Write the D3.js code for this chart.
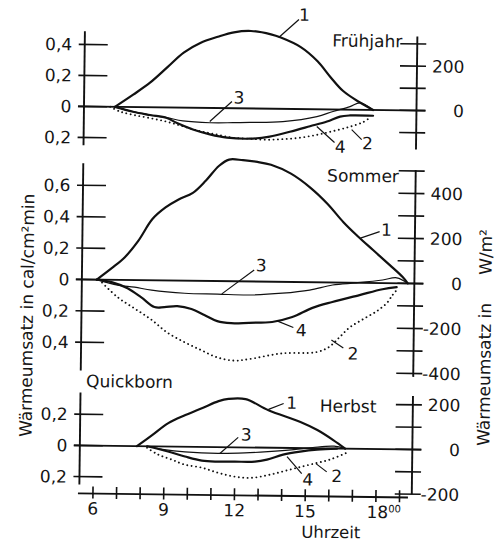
<!DOCTYPE html>
<html>
<head>
<meta charset="utf-8">
<script src="https://cdn.jsdelivr.net/npm/d3@7"></script>
<style>
  body { margin: 0; background: #fff; }
  svg text { font-family: "DejaVu Sans", sans-serif; fill: #151515; }
</style>
</head>
<body>
<div id="chart"></div>
<script>
// Wärmeumsatz, cal/cm²min, against Uhrzeit (hours)
// 1 = Strahlungsbilanz, 2/3/4 = Verbrauchsterme (as numbered in the figure)
var springC1 = [[6.73,0],[7.5,0.08],[8.22,0.16],[8.94,0.26],[9.62,0.355],[10.34,0.42],[11.06,0.46],[11.74,0.49],[12.46,0.5],[13.31,0.48],[13.73,0.46],[14.58,0.4],[15.3,0.31],[15.85,0.21],[16.4,0.12],[17.12,0.047],[17.68,0]];
var springC2 = [[6.53,0],[6.95,-0.03],[7.5,-0.05],[8.22,-0.07],[8.94,-0.092],[9.62,-0.12],[10.34,-0.15],[11.06,-0.17],[11.74,-0.19],[12.46,-0.195],[13.18,-0.2],[13.86,-0.195],[14.58,-0.185],[15.3,-0.165],[15.98,-0.14],[16.7,-0.11],[17.25,-0.08],[17.55,-0.05]];
var springC3 = [[6.73,0],[7.5,-0.03],[8.22,-0.05],[8.94,-0.066],[9.62,-0.085],[10.77,-0.095],[11.74,-0.093],[12.46,-0.09],[13.86,-0.082],[15.3,-0.047],[15.98,-0.013],[16.7,0.02],[17.12,0.045],[17.68,0]];
var springC4 = [[6.73,0],[7.5,-0.03],[8.22,-0.05],[8.94,-0.068],[9.37,-0.1],[10.05,-0.14],[10.77,-0.17],[11.5,-0.19],[12.46,-0.195],[13.31,-0.18],[14.16,-0.147],[15.01,-0.11],[15.73,-0.078],[16.28,-0.045],[16.7,-0.037],[17.68,-0.037]];

var summerC1 = [[6.05,0],[6.68,0.074],[7.23,0.145],[7.79,0.25],[8.38,0.39],[8.93,0.465],[9.48,0.517],[10.08,0.56],[10.63,0.64],[11.18,0.735],[11.6,0.775],[12.19,0.772],[12.8,0.762],[13.38,0.745],[14.23,0.69],[15.08,0.6],[15.8,0.5],[16.48,0.385],[17.07,0.3],[17.75,0.21],[18.47,0.115],[19.02,0.04],[19.24,0]];
var summerC2 = [[6.15,0],[6.94,-0.11],[7.66,-0.18],[8.38,-0.25],[9.05,-0.33],[9.78,-0.39],[10.5,-0.44],[11.18,-0.485],[11.9,-0.505],[12.53,-0.495],[13.95,-0.455],[15.39,-0.445],[15.94,-0.41],[16.36,-0.35],[16.79,-0.286],[17.34,-0.233],[17.93,-0.18],[18.36,-0.127],[18.61,-0.073],[18.78,-0.042]];
var summerC3 = [[6.05,0],[6.94,-0.033],[7.66,-0.045],[8.38,-0.063],[9.78,-0.08],[11.18,-0.083],[12.53,-0.086],[13.93,-0.072],[15.08,-0.05],[16.05,-0.016],[17.07,0],[18.17,0.02],[18.77,0.035],[19.24,0]];
var summerC4 = [[6.05,0],[6.68,-0.015],[7.36,-0.053],[7.95,-0.11],[8.51,-0.17],[8.93,-0.17],[9.48,-0.163],[10.08,-0.18],[10.63,-0.217],[11.18,-0.255],[11.77,-0.267],[12.53,-0.263],[13.51,-0.256],[14.36,-0.223],[15.21,-0.163],[16.05,-0.124],[17.2,-0.078],[18.17,-0.039],[18.77,-0.025]];

var autumnC1 = [[7.84,0],[8.48,0.072],[9.16,0.15],[9.88,0.203],[10.6,0.25],[11.28,0.295],[11.7,0.31],[12.42,0.31],[13.4,0.24],[14.76,0.167],[15.48,0.117],[16.16,0.054],[16.67,0]];
var autumnC2 = [[8.27,-0.01],[8.74,-0.052],[9.33,-0.084],[9.88,-0.115],[10.6,-0.133],[11.28,-0.164],[12,-0.188],[12.72,-0.194],[13.48,-0.173],[14.33,-0.139],[15.18,-0.105],[16.03,-0.071],[16.75,-0.025]];
var autumnC3 = [[8.27,0],[9,-0.02],[9.88,-0.033],[11.28,-0.04],[12.42,-0.035],[13.4,-0.025],[14.5,-0.01],[15.3,0.005],[16.2,0.015],[16.67,0]];
var autumnC4 = [[8.27,0],[9.16,-0.032],[9.88,-0.063],[10.6,-0.088],[11.28,-0.093],[12,-0.092],[12.85,-0.09],[13.36,-0.076],[14.04,-0.043],[14.76,-0.022],[15.48,-0.008],[16.33,0]];

// curve numbers with their leader lines (hour, value)
var springNotes = [
  {t: "1", from: [13.64, 0.46], to: [14.49, 0.578], at: [14.72, 0.61]},
  {t: "3", from: [10.76, -0.087], to: [11.69, 0.044], at: [11.99, 0.07]},
  {t: "4", from: [15.3, -0.111], to: [16.06, -0.213], at: [16.31, -0.24]},
  {t: "2", from: [16.78, -0.128], to: [17.21, -0.192], at: [17.46, -0.215]}
];
var summerNotes = [
  {t: "1", from: [17.21, 0.285], to: [18.02, 0.328], at: [18.31, 0.34]},
  {t: "3", from: [11.36, -0.081], to: [12.72, 0.073], at: [13.02, 0.105]},
  {t: "4", from: [13.74, -0.25], to: [14.41, -0.29], at: [14.75, -0.306]},
  {t: "2", from: [16.03, -0.366], to: [16.54, -0.417], at: [16.95, -0.45]}
];
var autumnNotes = [
  {t: "1", from: [13.4, 0.246], to: [14.04, 0.285], at: [14.38, 0.29]},
  {t: "3", from: [11.36, -0.041], to: [12.13, 0.064], at: [12.47, 0.083]},
  {t: "4", from: [14.21, -0.055], to: [14.84, -0.164], at: [15.1, -0.2]},
  {t: "2", from: [15.44, -0.098], to: [15.9, -0.15], at: [16.33, -0.175]}
];

var hourTicks = [6,7,8,9,10,11,12,13,14,15,16,17,18,19];
var hourLabels = [6,9,12,15,18];

var calToW = 697.8;   // 1 cal/cm²min in W/m²

var width = 496, height = 545;
var axisL = 82, axisR = 414.5;

var panels = [
  {title: "Frühjahr", tx: 329.5, ty: 45.5, zero: 108.5, k: 155,
   left: [-0.25, 0.485], leftTicks: [0.4, 0.2, 0, -0.2],
   right: [-176, 333], rightTicks: [300, 200, 100, 0, -100], rightLabels: [200, 0],
   series: [springC1, springC2, springC3, springC4], notes: springNotes},
  {title: "Sommer", tx: 326, ty: 180.5, zero: 281.5, k: 157,
   left: [-0.58, 0.74], leftTicks: [0.6, 0.4, 0.2, 0, -0.2, -0.4],
   right: [-415, 504], rightTicks: [500, 400, 300, 200, 100, 0, -100, -200, -300, -400], rightLabels: [400, 200, 0, -200, -400],
   series: [summerC1, summerC2, summerC3, summerC4], notes: summerNotes},
  {title: "Herbst", tx: 321.5, ty: 411, zero: 447.5, k: 156,
   left: [-0.25, 0.34], leftTicks: [0.2, 0, -0.2],
   right: [-200, 239], rightTicks: [200, 100, 0, -100, -200], rightLabels: [200, 0, -200],
   series: [autumnC1, autumnC2, autumnC3, autumnC4], notes: autumnNotes}
];

var styles = [
  {w: 2.2, dash: null},
  {w: 1.9, dash: "0.01,4.4"},
  {w: 1.2, dash: null},
  {w: 2.2, dash: null}
];

var x = d3.scaleLinear().domain([6, 18]).range([95.7, 378.7]);

var svg = d3.select("#chart").append("svg")
    .attr("width", width)
    .attr("height", height);

// the printed figure sits slightly skewed on the page
var g = svg.append("g").attr("transform", "rotate(0.7,250,270)");

var calFmt = function(v) { return v === 0 ? "0" : d3.format(".1f")(Math.abs(v)).replace(".", ","); };

panels.forEach(function(p) {
  var y = d3.scaleLinear().domain([0, 1]).range([p.zero, p.zero - p.k]);
  var yW = d3.scaleLinear().domain([0, calToW]).range([p.zero, p.zero - p.k]);
  var pg = g.append("g");

  // left axis (cal/cm²min)
  pg.append("line")
    .attr("x1", axisL).attr("x2", axisL)
    .attr("y1", y(p.left[1])).attr("y2", y(p.left[0]))
    .attr("stroke", "#111").attr("stroke-width", 1.9);
  pg.selectAll(".lt").data(p.leftTicks).enter().append("line")
    .attr("x1", axisL - 6).attr("x2", axisL + 23)
    .attr("y1", function(d) { return y(d); }).attr("y2", function(d) { return y(d); })
    .attr("stroke", "#111").attr("stroke-width", 1.6);
  pg.selectAll(".ll").data(p.leftTicks).enter().append("text")
    .attr("x", axisL - 12.5).attr("y", function(d) { return y(d); })
    .attr("dy", "0.36em").attr("text-anchor", "end")
    .style("font-size", "17px")
    .text(calFmt);

  // right axis (W/m²)
  pg.append("line")
    .attr("x1", axisR).attr("x2", axisR)
    .attr("y1", yW(p.right[1])).attr("y2", yW(p.right[0]))
    .attr("stroke", "#111").attr("stroke-width", 1.9);
  pg.selectAll(".rt").data(p.rightTicks).enter().append("line")
    .attr("x1", axisR - 17).attr("x2", axisR + 9)
    .attr("y1", function(d) { return yW(d); }).attr("y2", function(d) { return yW(d); })
    .attr("stroke", "#111").attr("stroke-width", 1.6);
  pg.selectAll(".rl").data(p.rightLabels).enter().append("text")
    .attr("x", axisR + 47.5).attr("y", function(d) { return yW(d); })
    .attr("dy", "0.36em").attr("text-anchor", "end")
    .style("font-size", "17px")
    .text(function(d) { return d < 0 ? "-" + (-d) : d; });

  // zero line across the panel
  pg.append("line")
    .attr("x1", axisL - 6).attr("x2", axisR + 9)
    .attr("y1", y(0)).attr("y2", y(0))
    .attr("stroke", "#111").attr("stroke-width", 1.9);

  var line = d3.line()
    .x(function(d) { return x(d[0]); })
    .y(function(d) { return y(d[1]); })
    .curve(d3.curveCatmullRom.alpha(0.5));

  pg.selectAll(".curve").data(p.series).enter().append("path")
    .attr("d", line)
    .attr("fill", "none")
    .attr("stroke", "#111")
    .attr("stroke-width", function(d, i) { return styles[i].w; })
    .attr("stroke-dasharray", function(d, i) { return styles[i].dash; })
    .attr("stroke-linecap", "round")
    .attr("stroke-linejoin", "round");

  // leader lines + curve numbers
  pg.selectAll(".lead").data(p.notes).enter().append("line")
    .attr("x1", function(d) { return x(d.from[0]); })
    .attr("y1", function(d) { return y(d.from[1]); })
    .attr("x2", function(d) { return x(d.to[0]); })
    .attr("y2", function(d) { return y(d.to[1]); })
    .attr("stroke", "#111").attr("stroke-width", 1.2);
  pg.selectAll(".num").data(p.notes).enter().append("text")
    .attr("x", function(d) { return x(d.at[0]); })
    .attr("y", function(d) { return y(d.at[1]); })
    .attr("dy", "0.36em").attr("text-anchor", "middle")
    .style("font-size", "17px")
    .text(function(d) { return d.t; });

  pg.append("text")
    .attr("x", p.tx).attr("y", p.ty)
    .style("font-size", "17px")
    .text(p.title);
});

// time axis
var xAxisY = 495.5;
g.append("line")
  .attr("x1", 80.7).attr("x2", 410.7)
  .attr("y1", xAxisY).attr("y2", xAxisY)
  .attr("stroke", "#111").attr("stroke-width", 1.9);
g.selectAll(".xt").data(hourTicks).enter().append("line")
  .attr("x1", function(d) { return x(d); }).attr("x2", function(d) { return x(d); })
  .attr("y1", xAxisY - 7).attr("y2", xAxisY + 5)
  .attr("stroke", "#111").attr("stroke-width", 1.6);
var xl = g.selectAll(".xl").data(hourLabels).enter().append("text")
  .attr("x", function(d) { return x(d); })
  .attr("y", 516.5)
  .attr("text-anchor", "middle")
  .style("font-size", "17px")
  .text(function(d) { return d; });
xl.filter(function(d) { return d === 18; })
  .attr("dx", 8)
  .append("tspan")
  .attr("dy", -6)
  .style("font-size", "10px")
  .text("00");

g.append("text")
  .attr("x", 334).attr("y", 537)
  .attr("text-anchor", "middle")
  .style("font-size", "16.5px")
  .text("Uhrzeit");

g.append("text")
  .attr("x", 87.5).attr("y", 389)
  .style("font-size", "17px")
  .text("Quickborn");

// unit labels
g.append("text")
  .attr("transform", "translate(33.5,318) rotate(-90)")
  .attr("text-anchor", "middle")
  .style("font-size", "17px")
  .text("Wärmeumsatz in cal/cm²min");

var rl = g.append("text")
  .attr("transform", "translate(491.5,443) rotate(-90)")
  .style("font-size", "17px");
rl.append("tspan").text("Wärmeumsatz in");
rl.append("tspan").attr("dx", 28).text("W/m²");
</script>
</body>
</html>
